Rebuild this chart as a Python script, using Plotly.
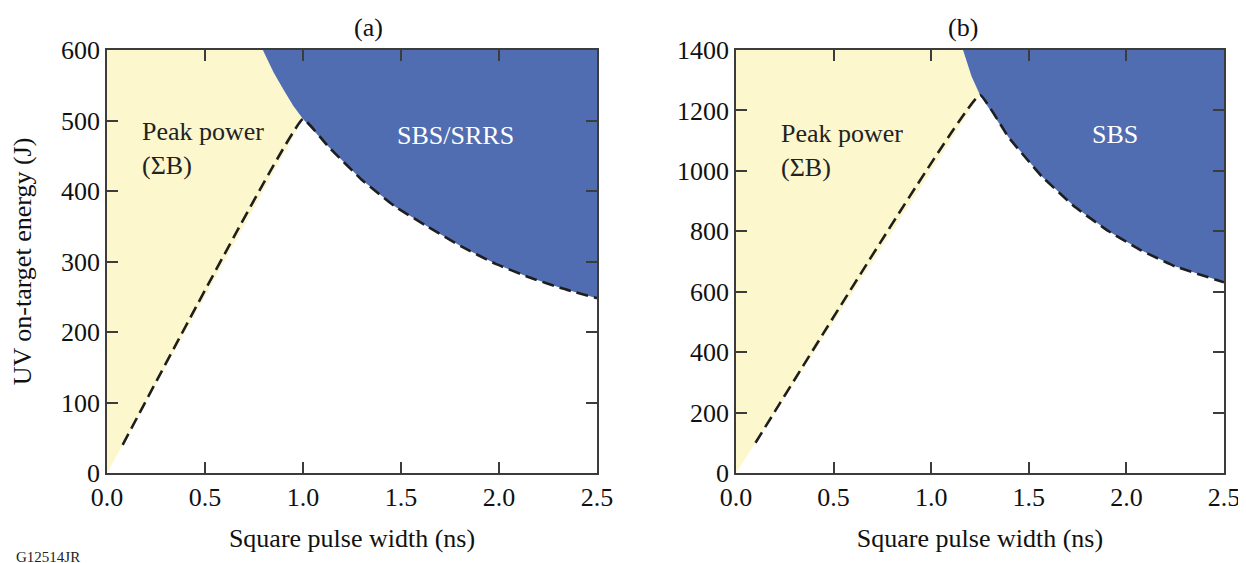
import plotly.graph_objects as go

# ---- data ----
# Panel (a)
a_line_start = [0.08, 40]          # where dashed peak-power line begins
a_peak = [1.0, 502]                # intersection of the two limits
a_upper_x = [0.795, 0.85, 0.9, 0.95, 1.0]   # SBS/SRRS limit above the peak
a_upper_y = [600, 568, 544, 521, 502]
a_curve_x = [1.0, 1.129, 1.299, 1.469, 1.639, 1.810, 1.980, 2.149, 2.320, 2.5]
a_curve_y = [502, 463, 416, 378, 349, 321, 297, 278, 262, 248]

# Panel (b)
b_line_start = [0.10, 100]
b_peak = [1.25, 1251]
b_upper_x = [1.163, 1.207, 1.25]
b_upper_y = [1400, 1312, 1251]
b_curve_x = [1.25, 1.395, 1.566, 1.737, 1.907, 2.078, 2.249, 2.5]
b_curve_y = [1251, 1112, 982, 880, 801, 736, 684, 631]

x_range = [0, 2.5]
a_yrange = [0, 600]
b_yrange = [0, 1400]
x_ticks = [0.0, 0.5, 1.0, 1.5, 2.0, 2.5]
x_ticklabels = ["0.0", "0.5", "1.0", "1.5", "2.0", "2.5"]
a_yticks = [0, 100, 200, 300, 400, 500, 600]
b_yticks = [0, 200, 400, 600, 800, 1000, 1200, 1400]

YELLOW = "#FCF7CD"
BLUE = "#516DB1"
DASH = "#1E1E1E"
AXIS = "#3C3C3C"
FONT = "Liberation Serif"
FS = 26

fig = go.Figure()


def add_panel(xa, ya, start, peak, ux, uy, cx, cy, yr):
    xr = x_range
    yx = [0, peak[0]] + ux[::-1] + [0, 0]
    yy = [0, peak[1]] + uy[::-1] + [yr[1], 0]
    fig.add_trace(go.Scatter(x=yx, y=yy, mode="lines", fill="toself",
                             fillcolor=YELLOW, line=dict(width=0),
                             hoverinfo="skip", showlegend=False,
                             xaxis=xa, yaxis=ya))
    bx = ux + cx[1:] + [xr[1], ux[0]]
    by = uy + cy[1:] + [yr[1], uy[0]]
    fig.add_trace(go.Scatter(x=bx, y=by, mode="lines", fill="toself",
                             fillcolor=BLUE, line=dict(width=0),
                             hoverinfo="skip", showlegend=False,
                             xaxis=xa, yaxis=ya))
    dx = [start[0], peak[0]] + cx[1:]
    dy = [start[1], peak[1]] + cy[1:]
    fig.add_trace(go.Scatter(x=dx, y=dy, mode="lines",
                             line=dict(color=DASH, width=2.6, dash="12px,6px",
                                       shape="spline", smoothing=0.25),
                             hoverinfo="skip", showlegend=False,
                             xaxis=xa, yaxis=ya))


add_panel("x", "y", a_line_start, a_peak, a_upper_x, a_upper_y,
          a_curve_x, a_curve_y, a_yrange)
add_panel("x2", "y2", b_line_start, b_peak, b_upper_x, b_upper_y,
          b_curve_x, b_curve_y, b_yrange)

axis_common = dict(showline=True, linecolor=AXIS, linewidth=1.5, mirror="ticks",
                   ticks="inside", ticklen=11, tickwidth=1.5, tickcolor=AXIS,
                   showgrid=False, zeroline=False,
                   tickfont=dict(family=FONT, size=FS, color="#111"))

L, R, T, B = 99, 30, 42, 98
PW = 1246 - L - R
PH = 563 - T - B

fig.update_layout(
    width=1246, height=563,
    margin=dict(l=L, r=R, t=T, b=B),
    plot_bgcolor="white", paper_bgcolor="white",
    font=dict(family=FONT, size=FS, color="#111"),
    xaxis=dict(domain=[0, 0.4387], range=x_range, tickvals=x_ticks,
               ticktext=x_ticklabels, anchor="y",
               title=dict(text="Square pulse width (ns)", standoff=18,
                          font=dict(family=FONT, size=FS)),
               **axis_common),
    yaxis=dict(domain=[0, 1], range=a_yrange, tickvals=a_yticks, anchor="x",
               title=dict(text="UV on-target energy (J)", standoff=22,
                          font=dict(family=FONT, size=FS)),
               **axis_common),
    xaxis2=dict(domain=[0.5631, 1], range=x_range, tickvals=x_ticks,
                ticktext=x_ticklabels, anchor="y2",
                title=dict(text="Square pulse width (ns)", standoff=18,
                           font=dict(family=FONT, size=FS)),
                **axis_common),
    yaxis2=dict(domain=[0, 1], range=b_yrange, tickvals=b_yticks, anchor="x2",
                **axis_common),
)

annos = [
    dict(text="(a)", x=0.5 * 0.4387, y=1.0, xref="paper", yref="paper",
         yanchor="middle", yshift=23, showarrow=False,
         font=dict(family=FONT, size=FS, color="#111")),
    dict(text="(b)", x=(0.5631 + 1) / 2, y=1.0, xref="paper", yref="paper",
         yanchor="middle", yshift=23, showarrow=False,
         font=dict(family=FONT, size=FS, color="#111")),
    dict(text="Peak power<br>(ΣB)", x=0.168, y=460, xref="x", yref="y",
         xanchor="left", yanchor="middle", align="left", showarrow=False,
         font=dict(family=FONT, size=FS, color="#222")),
    dict(text="SBS/SRRS", x=1.776, y=479, xref="x", yref="y",
         xanchor="center", yanchor="middle", showarrow=False,
         font=dict(family=FONT, size=FS, color="white")),
    dict(text="Peak power<br>(ΣB)", x=0.22, y=1069, xref="x2", yref="y2",
         xanchor="left", yanchor="middle", align="left", showarrow=False,
         font=dict(family=FONT, size=FS, color="#222")),
    dict(text="SBS", x=1.94, y=1119, xref="x2", yref="y2",
         xanchor="center", yanchor="middle", showarrow=False,
         font=dict(family=FONT, size=FS, color="white")),
    dict(text="G12514JR", x=(6 - L) / PW, y=-(549 - (T + PH)) / PH,
         xref="paper", yref="paper", xanchor="left", yanchor="middle",
         showarrow=False, font=dict(family=FONT, size=15, color="#222")),
]
fig.update_layout(annotations=annos)

fig.write_html("out.html")
